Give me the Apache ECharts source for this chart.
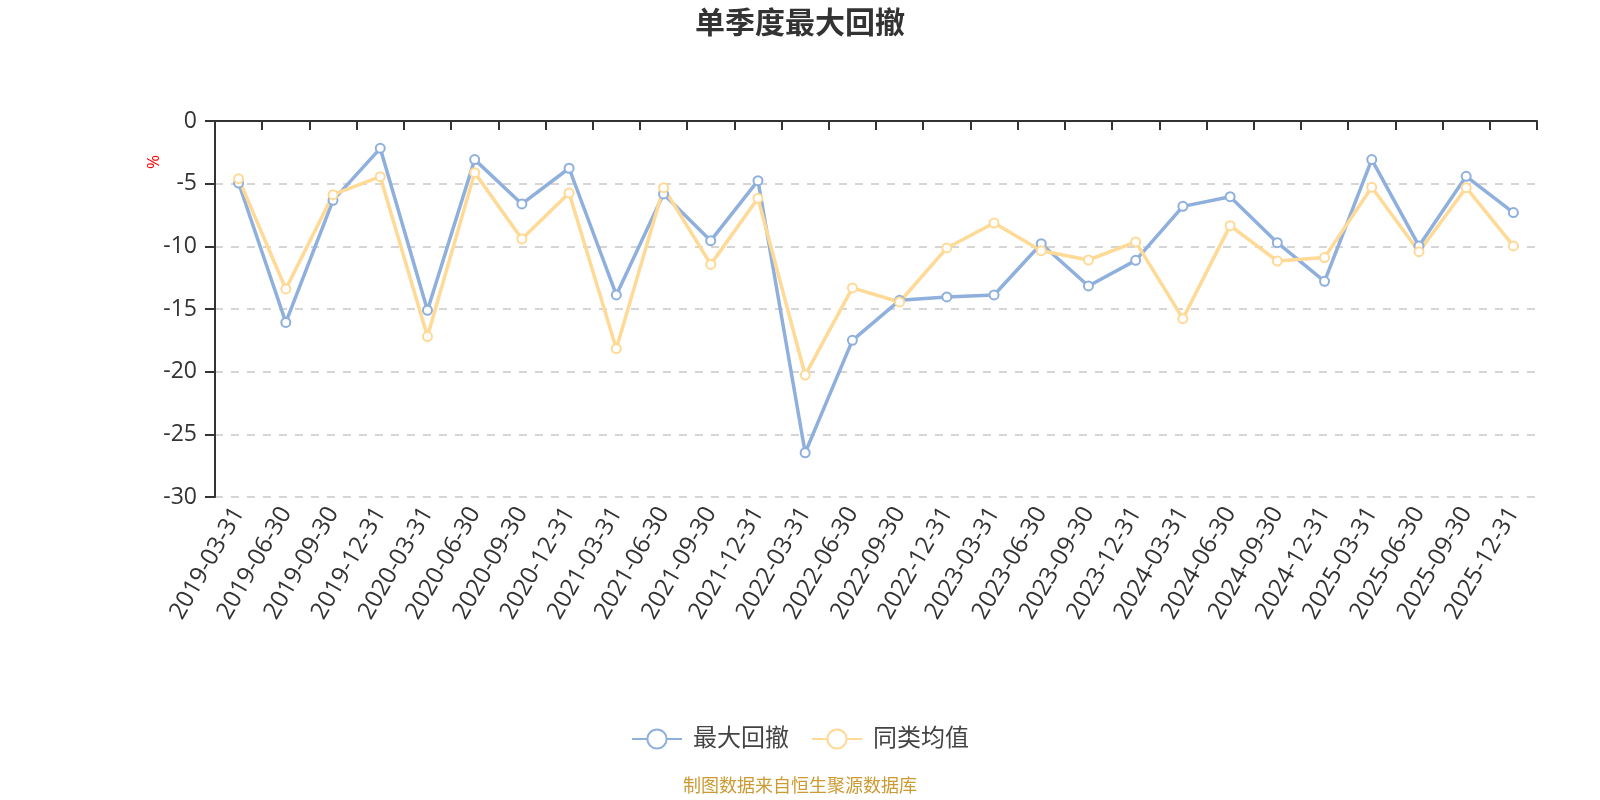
<!DOCTYPE html>
<html>
<head>
<meta charset="utf-8">
<script src="https://cdn.jsdelivr.net/npm/echarts@6/dist/echarts.min.js"></script>
<style>
  html, body { margin: 0; padding: 0; background: #fff; }
  #chart { width: 1600px; height: 800px; }
</style>
</head>
<body>
<div id="chart"></div>
<script>
// 季度
var quarters = [
  '2019-03-31', '2019-06-30', '2019-09-30', '2019-12-31',
  '2020-03-31', '2020-06-30', '2020-09-30', '2020-12-31',
  '2021-03-31', '2021-06-30', '2021-09-30', '2021-12-31',
  '2022-03-31', '2022-06-30', '2022-09-30', '2022-12-31',
  '2023-03-31', '2023-06-30', '2023-09-30', '2023-12-31',
  '2024-03-31', '2024-06-30', '2024-09-30', '2024-12-31',
  '2025-03-31', '2025-06-30', '2025-09-30', '2025-12-31'
];
// 最大回撤 (%)
var maxDrawdown = [
  -4.95, -16.07, -6.33, -2.18, -15.1, -3.08, -6.62, -3.77,
  -13.88, -5.82, -9.55, -4.76, -26.47, -17.5, -14.31, -14.04,
  -13.88, -9.79, -13.16, -11.12, -6.81, -6.04, -9.71, -12.79,
  -3.08, -9.97, -4.41, -7.31
];
// 同类均值 (%)
var peerAvg = [
  -4.6, -13.4, -5.88, -4.44, -17.2, -4.12, -9.41, -5.74,
  -18.17, -5.32, -11.44, -6.17, -20.27, -13.32, -14.44, -10.13,
  -8.14, -10.35, -11.09, -9.65, -15.77, -8.35, -11.17, -10.9,
  -5.29, -10.43, -5.32, -9.97
];
var seriesNames = ['最大回撤', '同类均值'];
var colors = ['#8fb0dc', '#ffd996'];

var fontFamily = "'Open Sans', 'Noto Sans CJK SC', sans-serif";
var chart = echarts.init(document.getElementById('chart'));
chart.setOption({
  textStyle: { fontFamily: fontFamily },
  color: colors,
  title: {
    text: '单季度最大回撤',
    left: 'center',
    top: 4,
    textStyle: { fontSize: 30, fontWeight: 'bold', color: '#333', fontFamily: fontFamily }
  },
  legend: {
    data: seriesNames,
    left: 'center',
    top: 722,
    itemWidth: 50,
    itemHeight: 24,
    itemGap: 22,
    textStyle: { fontSize: 24, color: '#444', padding: [0, 0, 0, 6] }
  },
  grid: { left: 215, right: 63, top: 121, bottom: 303 },
  // 两条x轴：上面只画轴线和刻度，下面只显示标签
  xAxis: [
    {
      type: 'category',
      data: quarters,
      axisLine: { onZero: true, lineStyle: { color: '#333', width: 2 } },
      axisTick: { show: true, interval: 0, length: 9, lineStyle: { color: '#333', width: 2 } },
      axisLabel: { show: false }
    },
    {
      type: 'category',
      data: quarters,
      position: 'bottom',
      axisLine: { show: false, onZero: false },
      axisTick: { show: false },
      axisLabel: { rotate: 60, fontSize: 24, color: '#333', margin: 12, interval: 0 }
    }
  ],
  yAxis: {
    type: 'value',
    min: -30,
    max: 0,
    interval: 5,
    axisLine: { show: true, lineStyle: { color: '#333', width: 2 } },
    axisTick: { show: true, length: 10, lineStyle: { color: '#333', width: 2 } },
    axisLabel: { fontSize: 23, color: '#333', margin: 18 },
    splitLine: { lineStyle: { type: [8, 8], color: '#c8c8c8', width: 1.5 } }
  },
  graphic: [
    {
      type: 'text',
      x: 152, y: 162,
      rotation: -Math.PI / 2,
      style: { text: '%', fill: '#ff0000', fontSize: 17, fontFamily: fontFamily, align: 'center', verticalAlign: 'middle' }
    },
    {
      type: 'text',
      left: 'center',
      top: 778,
      style: { text: '制图数据来自恒生聚源数据库', fill: '#cc9a33', fontSize: 18, fontFamily: fontFamily }
    }
  ],
  series: [
    {
      name: seriesNames[0],
      type: 'line',
      data: maxDrawdown,
      symbol: 'emptyCircle',
      symbolSize: 9,
      lineStyle: { width: 3.5 },
      itemStyle: { color: colors[0], borderWidth: 2 }
    },
    {
      name: seriesNames[1],
      type: 'line',
      data: peerAvg,
      symbol: 'emptyCircle',
      symbolSize: 9,
      lineStyle: { width: 3.5 },
      itemStyle: { color: colors[1], borderWidth: 2 }
    }
  ]
});
</script>
</body>
</html>
